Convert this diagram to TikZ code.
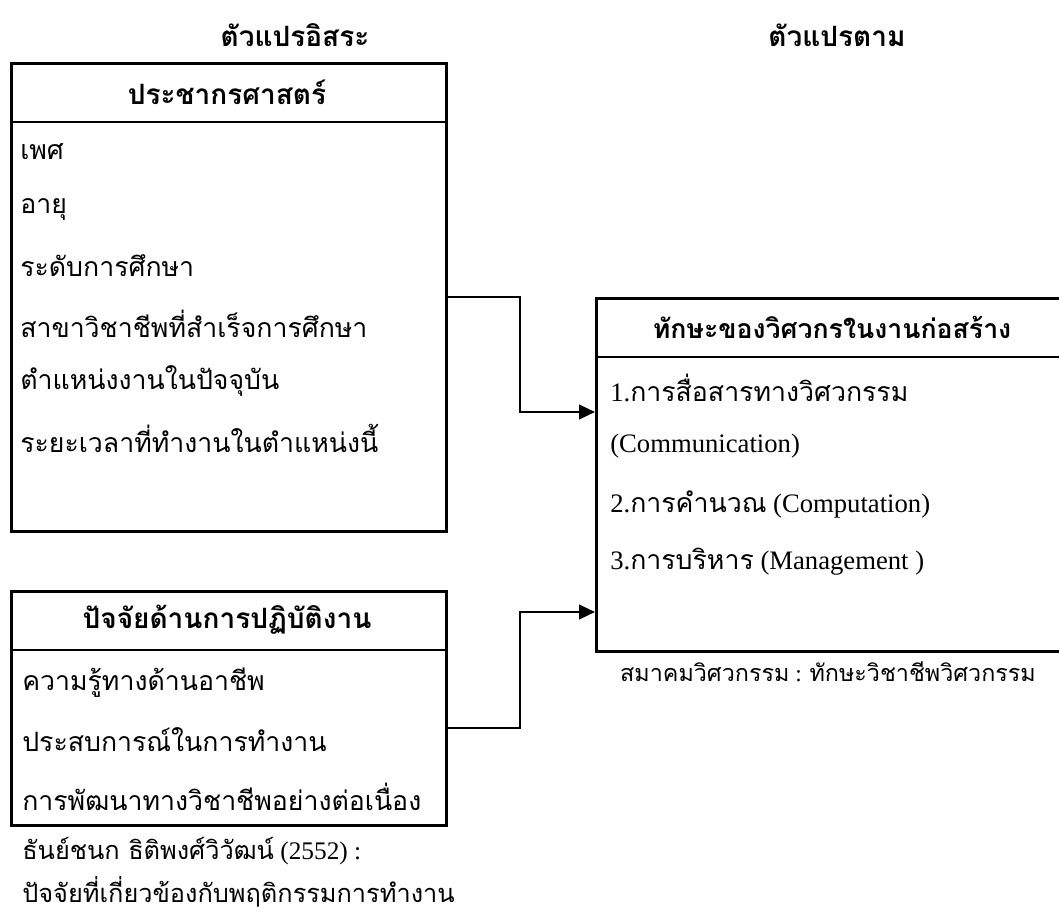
\documentclass[tikz,border=0pt]{standalone}
\usepackage{fontspec}
\setmainfont{Liberation Serif}
\newfontfamily\thaifont[Script=Thai]{Loma}
\usetikzlibrary{arrows.meta}
\newcommand{\T}[1]{{\thaifont #1}}
\begin{document}
\begin{tikzpicture}[x=0.75pt,y=-0.75pt,
  box/.style={draw,line width=2pt,inner sep=0pt,anchor=north west},
  divider/.style={line width=2pt},
  item/.style={anchor=west,inner sep=0pt,font=\fontsize{20}{24}\selectfont},
  head/.style={inner sep=0pt,font=\fontsize{21}{25}\selectfont\bfseries},
  arr/.style={line width=1.6pt,-{Triangle[length=12pt,width=11pt]}}]
\useasboundingbox (0,0) rectangle (1059,916);
% titles
\node[head] (t1) at (295,35) {\T{ตัวแปรอิสระ}};
\node[head] (t2) at (837,35) {\T{ตัวแปรตาม}};
% boxes
\node[box,minimum width=326.25pt,minimum height=351pt] (b1) at (10,62) {};
\node[box,minimum width=326.25pt,minimum height=175.5pt] (b2) at (10,590) {};
\node[box,minimum width=355.5pt,minimum height=264.75pt] (b3) at (595,297) {};
\coordinate (d1) at (0,122);
\coordinate (d2) at (0,650);
\coordinate (d3) at (0,357);
\draw[divider] (b1.west |- d1) -- (b1.east |- d1);
\draw[divider] (b2.west |- d2) -- (b2.east |- d2);
\draw[divider] (b3.west |- d3) -- (b3.east |- d3);
% headers
\node[head] (h1) at (227,92) {\T{ประชากรศาสตร์}};
\node[head] (h2) at (227,620) {\T{ปัจจัยด้านการปฏิบัติงาน}};
\node[head,font=\fontsize{20}{24}\selectfont\bfseries] (h3) at (832,327) {\T{ทักษะของวิศวกรในงานก่อสร้าง}};
% box 1 items
\node[item] (i11) at (20,152) {\T{เพศ}};
\node[item] (i12) at (20,209) {\T{อายุ}};
\node[item] (i13) at (20,266) {\T{ระดับการศึกษา}};
\node[item] (i14) at (20,324) {\T{สาขาวิชาชีพที่สำเร็จการศึกษา}};
\node[item] (i15) at (20,381) {\T{ตำแหน่งงานในปัจจุบัน}};
\node[item] (i16) at (20,438) {\T{ระยะเวลาที่ทำงานในตำแหน่งนี้}};
% box 2 items
\node[item] (i21) at (22,683) {\T{ความรู้ทางด้านอาชีพ}};
\node[item] (i22) at (22,740) {\T{ประสบการณ์ในการทำงาน}};
\node[item] (i23) at (22,797) {\T{การพัฒนาทางวิชาชีพอย่างต่อเนื่อง}};
% box 3 items
\node[item] (i31) at (610,388) {1.\T{การสื่อสารทางวิศวกรรม}};
\node[item] (i32) at (610,446) {(Communication)};
\node[item] (i33) at (610,504) {2.\T{การคำนวณ} (Computation)};
\node[item] (i34) at (610,562) {3.\T{การบริหาร} (Management )};
% captions
\node[item,font=\fontsize{19}{23}\selectfont] (c1) at (22,851) {\T{ธันย์ชนก ธิติพงศ์วิวัฒน์} (2552) :};
\node[item,font=\fontsize{19}{23}\selectfont] (c2) at (22,892) {\T{ปัจจัยที่เกี่ยวข้องกับพฤติกรรมการทำงาน}};
\node[inner sep=0pt,font=\fontsize{17.5}{21}\selectfont] (c3) at (828,672) {\T{สมาคมวิศวกรรม} : \T{ทักษะวิชาชีพวิศวกรรม}};
% connectors
\coordinate (y1) at (0,297);
\coordinate (y2) at (0,412);
\coordinate (y3) at (0,728);
\coordinate (y4) at (0,612);
\coordinate (xm) at (520,0);
\draw[arr] (b1.east |- y1) -- (xm |- y1) -- (xm |- y2) -- (b3.west |- y2);
\draw[arr] (b2.east |- y3) -- (xm |- y3) -- (xm |- y4) -- (b3.west |- y4);
\end{tikzpicture}
\end{document}
